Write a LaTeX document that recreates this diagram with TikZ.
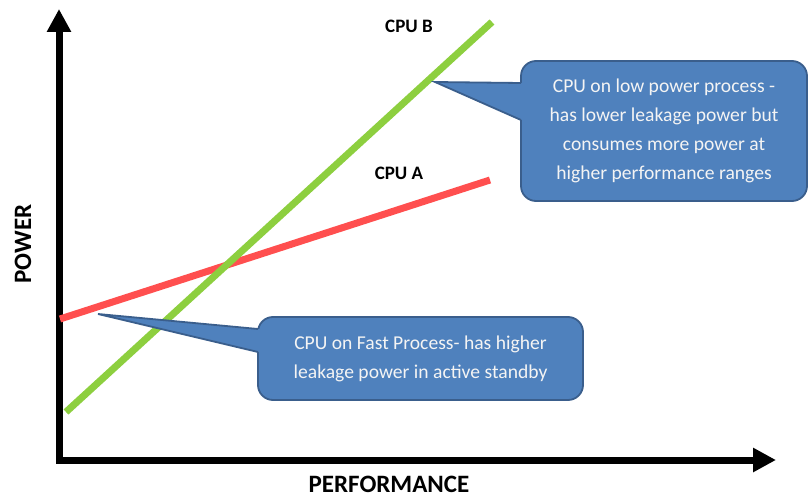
\documentclass[tikz,border=0pt]{standalone}
\usepackage{fontspec}
\setmainfont{Carlito}
\usetikzlibrary{arrows.meta}
\definecolor{cpured}{HTML}{FF4F4F}
\definecolor{cpugreen}{HTML}{8DCF3F}
\definecolor{callfill}{HTML}{4F81BD}
\definecolor{callline}{HTML}{3A5E8C}
\definecolor{calltext}{HTML}{F4F4F4}
\begin{document}
\begin{tikzpicture}[x=1pt,y=-1pt,
  axis/.style={line width=7pt, line join=miter, {Triangle[width=23pt,length=23pt]}-{Triangle[width=23pt,length=23pt]}},
  dataline/.style={line width=7pt},
  callout/.style={draw=callline, line width=1.8pt, fill=callfill, rounded corners=15pt, text=calltext, align=center, font=\fontsize{19.6}{29}\selectfont, inner sep=0pt},
  wedgeline/.style={draw=callline, line width=1.8pt, line join=miter},
  cpulabel/.style={font=\bfseries\fontsize{19}{22}\selectfont, inner sep=0pt},
  axislabel/.style={font=\bfseries\fontsize{25}{28}\selectfont, inner sep=0pt}]
\useasboundingbox (0,0) rectangle (809,497);
\fill[white] (0,0) rectangle (809,497);
% axes
\coordinate (o) at (59,460);
\coordinate (ytop) at (59,9);
\coordinate (xend) at (776,460);
\draw[axis] (ytop) -- (o) -- (xend);
% data lines
\coordinate (ra) at (60,319);
\coordinate (rb) at (490,180);
\coordinate (ga) at (66,412);
\coordinate (gb) at (492,22);
\draw[dataline, cpured] (ra) -- (rb);
\draw[dataline, cpugreen] (ga) -- (gb);
% labels
\node[cpulabel] (lb) at (409,26) {CPU B};
\node[cpulabel] (la) at (399,173) {CPU A};
\node[axislabel, rotate=90] (py) at (23,244) {POWER};
\node[axislabel] (px) at (389,484) {PERFORMANCE};
% callout 1
\node[callout, minimum width=286pt, minimum height=140pt] (c1) at (664,131)
  {CPU on low power process -\\has lower leakage power but\\consumes more power at\\higher performance ranges};
\coordinate (t1) at (435,82);
\coordinate (b1a) at (521,83);
\coordinate (b1b) at (521,120);
\fill[callfill] (t1) -- (b1a) -- ([xshift=4pt]b1a) -- ([xshift=4pt]b1b) -- (b1b) -- cycle;
\draw[wedgeline] (b1a) -- (t1) -- (b1b);
% callout 2
\node[callout, minimum width=325pt, minimum height=83pt] (c2) at (420.5,358.5)
  {CPU on Fast Process- has higher\\leakage power in active standby};
\coordinate (t2) at (98,314);
\coordinate (b2a) at (258,329);
\coordinate (b2b) at (258,352);
\fill[callfill] (t2) -- (b2a) -- ([xshift=4pt]b2a) -- ([xshift=4pt]b2b) -- (b2b) -- cycle;
\draw[wedgeline] (b2a) -- (t2) -- (b2b);
\end{tikzpicture}
\end{document}
